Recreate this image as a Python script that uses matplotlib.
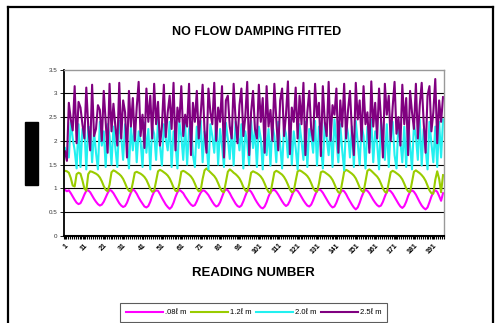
import matplotlib
matplotlib.use("Agg")
import matplotlib.pyplot as plt
import numpy as np
from matplotlib.patches import Rectangle
from matplotlib.lines import Line2D

plt.rcParams['font.family'] = ['Liberation Sans', 'DejaVu Sans']

# valores (196 lecturas por serie)
m_008 = [
    0.97, 0.94, 0.96, 0.90, 0.83, 0.76, 0.70, 0.67, 0.69, 0.77, 0.87, 0.95,
    0.96, 0.92, 0.85, 0.78, 0.72, 0.67, 0.64, 0.66, 0.72, 0.81, 0.90, 0.97,
    0.95, 0.90, 0.83, 0.76, 0.69, 0.64, 0.61, 0.63, 0.70, 0.81, 0.91, 0.98,
    0.95, 0.89, 0.81, 0.74, 0.68, 0.62, 0.60, 0.63, 0.72, 0.84, 0.93, 0.96,
    0.95, 0.88, 0.80, 0.73, 0.66, 0.61, 0.57, 0.61, 0.70, 0.82, 0.92, 0.97,
    0.94, 0.90, 0.83, 0.77, 0.71, 0.66, 0.63, 0.65, 0.73, 0.83, 0.91, 0.96,
    0.95, 0.91, 0.86, 0.79, 0.72, 0.66, 0.62, 0.64, 0.71, 0.82, 0.93, 0.98,
    0.96, 0.90, 0.82, 0.75, 0.68, 0.63, 0.61, 0.64, 0.73, 0.84, 0.94, 0.97,
    0.93, 0.86, 0.78, 0.71, 0.65, 0.60, 0.58, 0.62, 0.71, 0.83, 0.92, 0.96,
    0.97, 0.93, 0.87, 0.80, 0.73, 0.67, 0.63, 0.66, 0.74, 0.85, 0.94, 0.97,
    0.95, 0.89, 0.82, 0.75, 0.69, 0.64, 0.62, 0.66, 0.75, 0.86, 0.95, 0.98,
    0.96, 0.91, 0.84, 0.77, 0.70, 0.64, 0.60, 0.62, 0.70, 0.81, 0.91, 0.96,
    0.94, 0.88, 0.80, 0.73, 0.66, 0.60, 0.56, 0.60, 0.70, 0.82, 0.92, 0.97,
    0.95, 0.90, 0.83, 0.76, 0.70, 0.65, 0.62, 0.64, 0.72, 0.83, 0.93, 0.97,
    0.94, 0.89, 0.82, 0.75, 0.68, 0.62, 0.59, 0.63, 0.72, 0.84, 0.93, 0.96,
    0.93, 0.87, 0.79, 0.71, 0.64, 0.59, 0.56, 0.60, 0.71, 0.83, 0.92, 0.96,
    0.93, 0.84, 0.74, 0.90,
]

m_12 = [
    1.37, 1.36, 1.33, 1.22, 1.06, 1.04, 1.30, 1.33, 1.31, 1.17, 1.00, 0.95,
    1.30, 1.36, 1.35, 1.33, 1.31, 1.28, 1.23, 1.15, 1.05, 0.97, 0.94, 1.08,
    1.34, 1.38, 1.36, 1.33, 1.30, 1.26, 1.20, 1.11, 1.01, 0.95, 0.93, 1.12,
    1.33, 1.35, 1.33, 1.31, 1.28, 1.24, 1.18, 1.09, 0.99, 0.93, 0.95, 1.15,
    1.36, 1.39, 1.37, 1.34, 1.31, 1.27, 1.21, 1.12, 1.02, 0.95, 0.94, 1.10,
    1.35, 1.37, 1.35, 1.32, 1.29, 1.25, 1.19, 1.10, 1.00, 0.94, 0.96, 1.20,
    1.38, 1.42, 1.38, 1.34, 1.30, 1.26, 1.20, 1.11, 1.01, 0.94, 0.92, 1.14,
    1.35, 1.40, 1.37, 1.33, 1.30, 1.26, 1.21, 1.13, 1.03, 0.96, 0.93, 1.09,
    1.33, 1.36, 1.34, 1.32, 1.29, 1.25, 1.19, 1.10, 1.00, 0.93, 0.90, 1.12,
    1.34, 1.37, 1.35, 1.32, 1.29, 1.24, 1.17, 1.08, 0.98, 0.92, 0.94, 1.16,
    1.36, 1.38, 1.36, 1.33, 1.30, 1.26, 1.20, 1.11, 1.01, 0.95, 0.93, 1.10,
    1.34, 1.36, 1.34, 1.31, 1.28, 1.24, 1.18, 1.09, 0.99, 0.92, 0.90, 1.13,
    1.35, 1.39, 1.37, 1.34, 1.31, 1.27, 1.21, 1.12, 1.02, 0.95, 0.92, 1.15,
    1.37, 1.40, 1.37, 1.33, 1.29, 1.25, 1.19, 1.10, 1.00, 0.93, 0.91, 1.12,
    1.34, 1.37, 1.35, 1.32, 1.29, 1.25, 1.19, 1.10, 1.00, 0.94, 0.92, 1.14,
    1.35, 1.38, 1.35, 1.32, 1.28, 1.23, 1.16, 1.06, 0.96, 0.90, 0.89, 1.18,
    1.36, 1.20, 0.92, 1.28,
]

m_20 = [
    1.85, 1.70, 1.65, 2.40, 2.05, 1.80, 1.42, 2.35, 1.45, 2.25, 2.30, 1.40,
    2.30, 2.28, 1.55, 2.20, 1.75, 1.40, 2.40, 1.90, 2.20, 1.45, 2.35, 2.10,
    1.50, 2.30, 1.85, 1.45, 2.42, 2.10, 1.60, 2.35, 1.95, 1.42, 2.30, 1.80,
    2.40, 1.55, 2.20, 2.00, 1.45, 2.38, 1.75, 2.25, 1.40, 2.30, 2.15, 1.60,
    2.45, 1.90, 1.48, 2.35, 2.05, 1.80, 2.40, 1.45, 2.20, 1.95, 1.42, 2.40,
    2.10, 1.60, 2.35, 1.50, 2.25, 2.40, 1.70, 1.45, 2.30, 1.85, 2.42, 1.55,
    2.20, 1.95, 1.40, 2.35, 2.10, 1.75, 2.45, 1.50, 2.25, 1.90, 1.45, 2.38,
    2.05, 1.62, 2.30, 1.48, 2.40, 2.15, 1.80, 2.35, 1.42, 2.20, 1.95, 1.50,
    2.42, 1.85, 2.25, 1.45, 2.30, 2.05, 1.40, 2.38, 1.70, 2.25, 1.48, 2.35,
    2.10, 1.55, 2.40, 1.90, 1.42, 2.30, 2.15, 1.65, 2.45, 1.50, 2.20, 1.85,
    1.40, 2.35, 2.00, 1.60, 2.40, 1.45, 2.25, 2.10, 1.75, 2.42, 1.48, 2.30,
    1.90, 1.42, 2.38, 2.05, 1.70, 2.30, 1.45, 2.45, 2.00, 1.55, 2.35, 1.80,
    1.38, 2.40, 2.15, 1.65, 2.30, 1.45, 2.42, 1.95, 1.50, 2.35, 2.10, 1.42,
    2.30, 1.85, 2.45, 1.55, 2.20, 1.95, 1.40, 2.40, 2.05, 1.60, 2.35, 1.45,
    2.25, 2.40, 1.70, 1.42, 2.38, 2.00, 1.55, 2.30, 1.45, 2.42, 1.90, 1.40,
    2.35, 2.10, 1.60, 2.45, 1.48, 2.25, 1.85, 1.40, 2.40, 1.95, 1.55, 2.30,
    1.45, 2.40, 1.65, 2.45,
]

m_25 = [
    1.78, 1.58, 2.80, 2.45, 2.22, 3.15, 1.95, 2.82, 2.70, 2.35, 2.05, 3.12,
    2.30, 1.80, 3.18, 2.10, 2.25, 2.75, 2.65, 2.00, 3.05, 2.40, 1.75, 3.20,
    2.20, 2.78, 2.30, 1.90, 3.22, 2.05, 2.85, 2.60, 1.65, 3.05, 2.30, 2.90,
    2.00, 2.70, 3.24, 2.10, 2.55, 1.85, 3.10, 2.40, 2.95, 2.05, 3.20, 2.35,
    2.82, 1.90, 2.30, 3.18, 2.08, 2.60, 2.95, 2.25, 3.22, 1.80, 2.70, 2.40,
    3.15, 2.10, 2.55, 2.30, 3.20, 1.70, 2.80, 2.40, 3.05, 2.05, 2.55, 3.18,
    2.20, 1.75, 3.10, 2.60, 2.35, 3.22, 2.00, 2.70, 2.40, 3.15, 1.65, 2.85,
    2.95, 2.30, 2.05, 3.20, 2.45, 1.95, 2.75, 3.10, 2.10, 2.50, 3.24, 1.70,
    2.60, 3.05, 2.25, 2.05, 3.18, 2.40, 2.90, 1.75, 3.15, 2.30, 2.65, 2.00,
    3.20, 2.45, 1.80, 2.85, 3.10, 2.10, 2.55, 3.25, 1.72, 2.70, 2.40, 3.12,
    2.05, 2.95, 2.35, 3.22, 1.70, 2.60, 3.05, 2.25, 2.00, 3.20, 2.50, 2.80,
    1.68, 3.15, 2.40, 2.10, 3.24, 2.00, 2.75, 2.55, 3.10, 1.75, 2.85, 2.30,
    3.20, 2.05, 2.65, 3.05, 2.20, 1.70, 3.22, 2.45, 2.85, 2.00, 3.15, 2.35,
    2.60, 1.75, 3.25, 2.30, 2.80, 2.05, 3.10, 2.45, 1.65, 3.20, 2.55, 2.95,
    2.00, 2.70, 3.24, 2.15, 2.50, 1.90, 3.18, 2.35, 2.90, 1.70, 3.05, 2.60,
    2.25, 3.20, 2.05, 2.75, 3.22, 2.40, 1.75, 2.95, 3.15, 2.20, 2.60, 3.30,
    1.95, 2.85, 2.40, 2.92,
]

series_names = ['.08ℓ m', '1.2ℓ m', '2.0ℓ m', '2.5ℓ m']
series_colors = ['#FF00FF', '#99CC00', '#22F0F0', '#800080']
y_ticks = [0, 0.5, 1, 1.5, 2, 2.5, 3, 3.5]

W, H = 498, 323
fig = plt.figure(figsize=(W / 100, H / 100), dpi=100)
ax = fig.add_axes([64 / W, 1 - 236 / H, 380 / W, (236 - 69.5) / H])

x = np.arange(len(m_008))
for vals, name, col in zip([m_008, m_12, m_20, m_25], series_names, series_colors):
    ax.plot(x, vals, color=col, lw=1.5, label=name)

ax.set_xlim(-0.5, len(x) - 0.5)
ax.set_ylim(0, 3.5)
ax.set_yticks(y_ticks)
ax.set_yticklabels([('%g' % v) for v in y_ticks], fontsize=4.5, color='#333333')
for v in y_ticks[1:-1]:
    ax.axhline(v, color='black', lw=0.8, zorder=0)

ax.set_xticks(x[::10])
ax.set_xticklabels([str(i + 1) for i in x[::10]], rotation=45, ha='right', va='top',
                   rotation_mode='anchor', fontsize=5, fontweight='bold')
ax.set_xticks(np.arange(-0.5, len(x), 1), minor=True)
ax.tick_params(axis='x', which='both', length=2.5, width=0.8, pad=2)
ax.tick_params(axis='y', length=3, width=0.6, pad=2)

ax.spines['left'].set_linewidth(1.3)
ax.spines['bottom'].set_linewidth(1.5)
ax.spines['top'].set_color('#999999')
ax.spines['right'].set_color('#999999')
ax.spines['top'].set_linewidth(1.0)
ax.spines['right'].set_linewidth(1.0)

fig.text(257 / W, 1 - 32 / H, 'NO FLOW DAMPING FITTED', ha='center', va='center',
         fontsize=9, fontweight='bold')
fig.text(253 / W, 1 - 273 / H, 'READING NUMBER', ha='center', va='center',
         fontsize=9.5, fontweight='bold')

# bloque negro donde iria el titulo del eje Y
fig.add_artist(Rectangle((25 / W, 1 - 185 / H), 13 / W, 63 / H,
                         transform=fig.transFigure, color='black'))

# marco exterior
for xs, ys in [([8 / W, 8 / W], [0, 1 - 7 / H]),
               ([8 / W, 493 / W], [1 - 7 / H, 1 - 7 / H]),
               ([493 / W, 493 / W], [0, 1 - 7 / H])]:
    fig.add_artist(Line2D(xs, ys, transform=fig.transFigure, color='black', lw=1.6))

leg = fig.legend(loc='center', bbox_to_anchor=(253.5 / W, 1 - 312.5 / H), ncol=4,
                 fontsize=5.5, handlelength=4.85, handletextpad=0.25, columnspacing=0.6,
                 frameon=True, fancybox=False, edgecolor='#333333', borderpad=0.7)
leg.get_frame().set_linewidth(0.8)

fig.savefig('out.png', dpi=100)
